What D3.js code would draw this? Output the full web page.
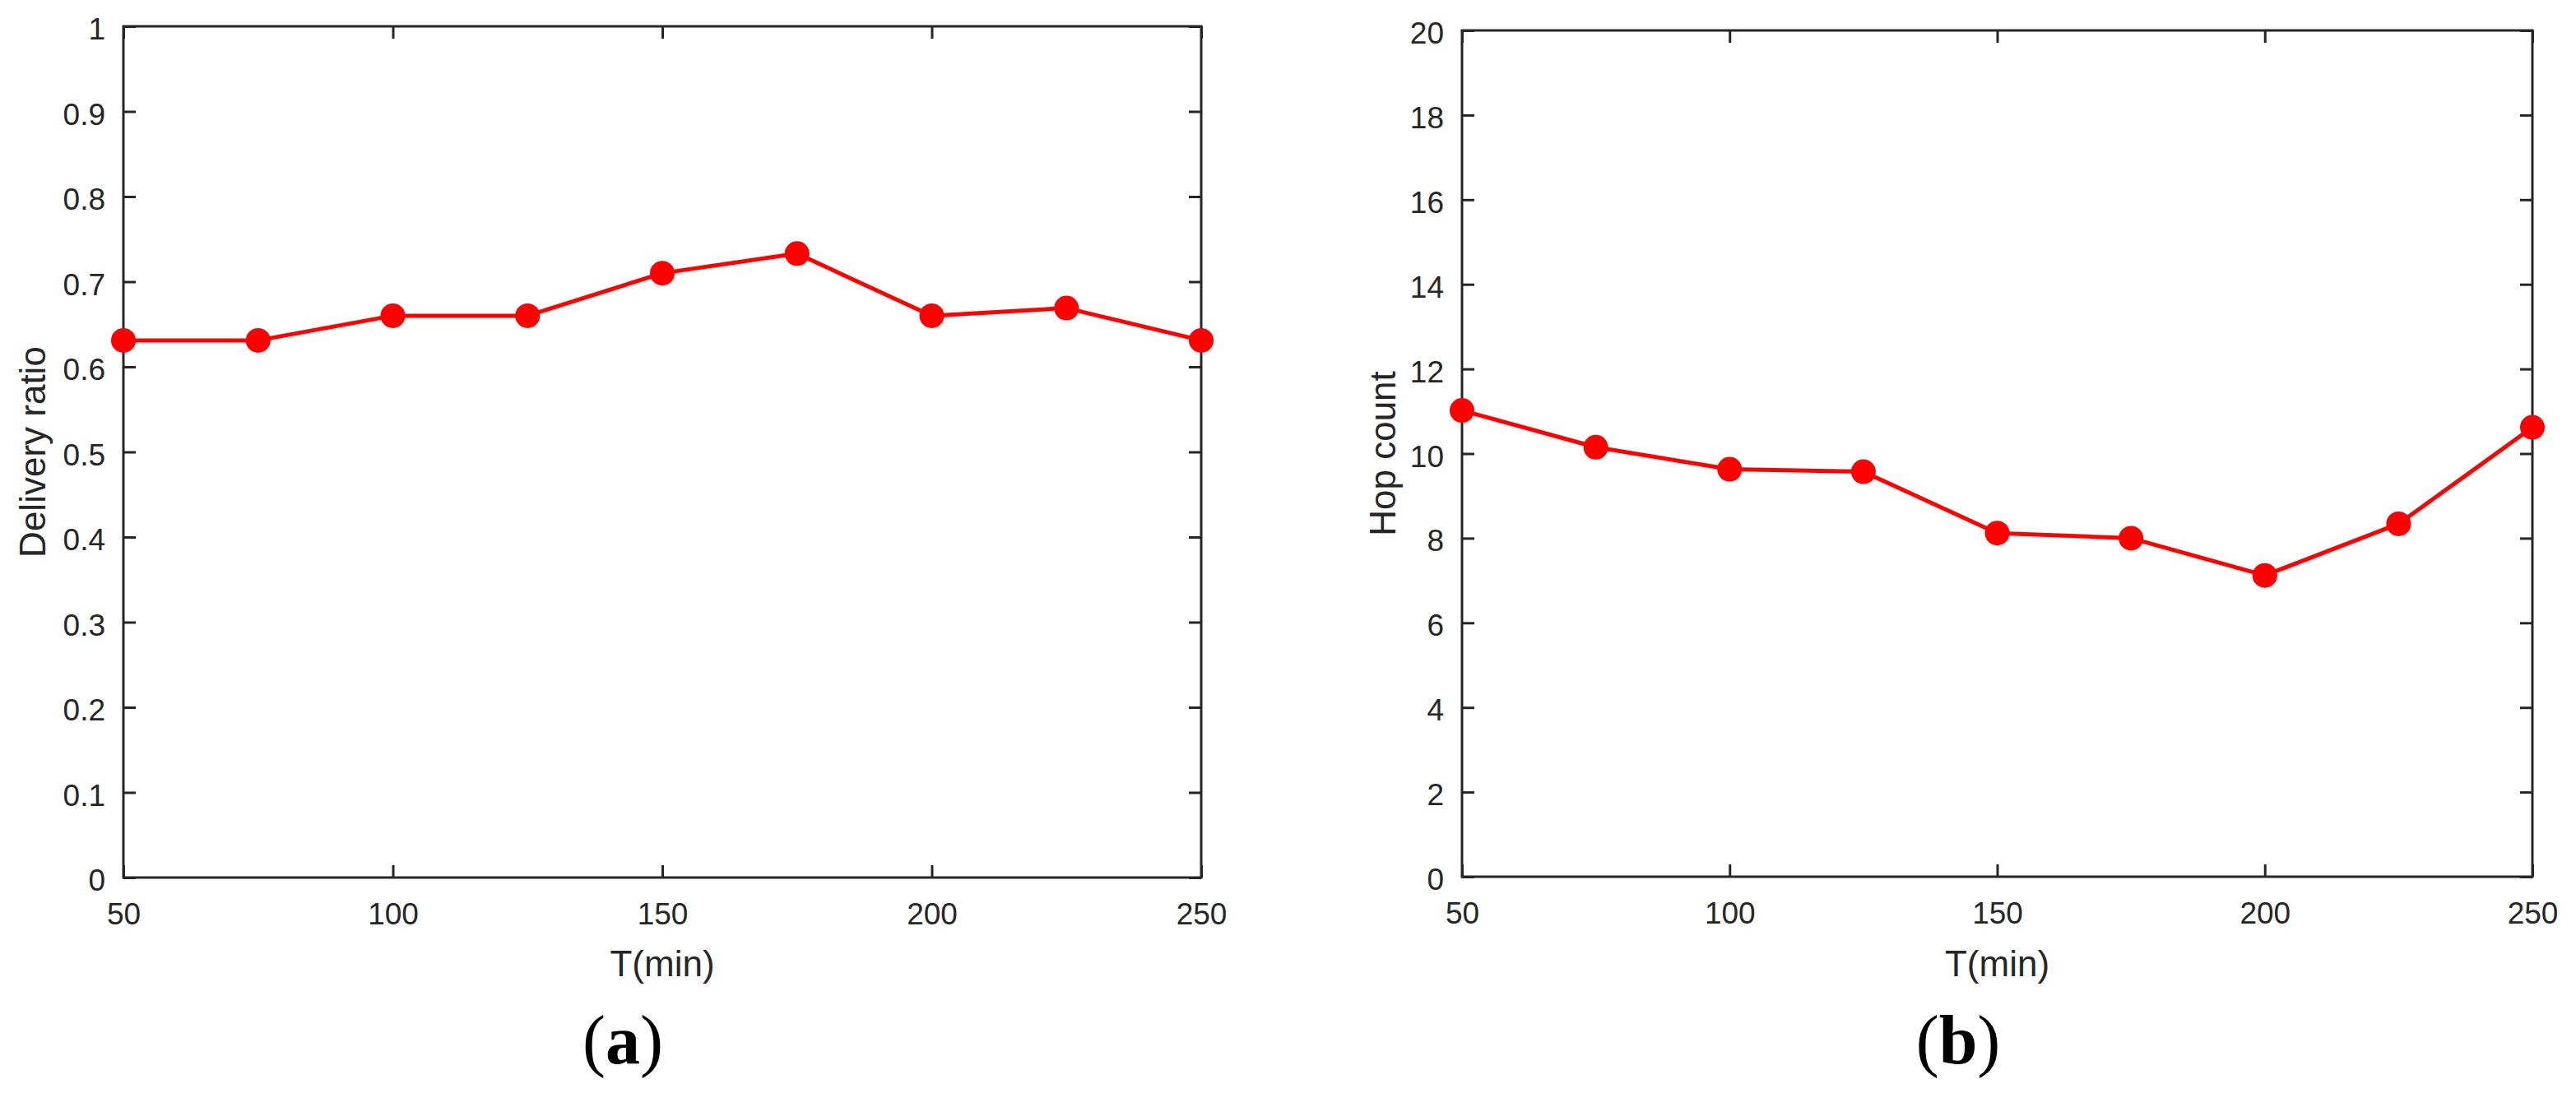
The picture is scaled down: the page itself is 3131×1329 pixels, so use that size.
<!DOCTYPE html>
<html>
<head>
<meta charset="utf-8">
<script src="https://cdn.jsdelivr.net/npm/d3@7"></script>
<style>
  html, body { margin: 0; padding: 0; background: #fff; }
  svg { display: block; }
</style>
</head>
<body>
<svg id="chart" width="3131" height="1329"></svg>
<script>
// ---- Data ----
const T = [50, 75, 100, 125, 150, 175, 200, 225, 250];
const deliveryRatio = [0.631, 0.631, 0.660, 0.660, 0.710, 0.733, 0.660, 0.669, 0.631];
const hopCount = [11.02, 10.15, 9.63, 9.57, 8.12, 8.00, 7.12, 8.34, 10.62];
const xTicks = [50, 100, 150, 200, 250];
const yTicksA = [0, 0.1, 0.2, 0.3, 0.4, 0.5, 0.6, 0.7, 0.8, 0.9, 1];
const yTicksB = [0, 2, 4, 6, 8, 10, 12, 14, 16, 18, 20];
const xLabel = "T(min)";
const yLabelA = "Delivery ratio";
const yLabelB = "Hop count";
const panelLetters = ["a", "b"];

// ---- Layout / style ----
const svg = d3.select("#chart");
const AX = "#262626";
const RED = "#ff0000";
const tickFont = 37, labelFont = 44;

const panels = [
  { x0: 150, x1: 1460, y0: 32, y1: 1067, yDomain: [0, 1], yTicks: yTicksA, values: deliveryRatio,
    yLabel: yLabelA, yLabelX: 55, letter: panelLetters[0], letterX: 757 },
  { x0: 1777, x1: 3078, y0: 37, y1: 1066, yDomain: [0, 20], yTicks: yTicksB, values: hopCount,
    yLabel: yLabelB, yLabelX: 1696, letter: panelLetters[1], letterX: 2380 }
];

panels.forEach(p => {
  const x = d3.scaleLinear().domain([50, 250]).range([p.x0, p.x1]);
  const y = d3.scaleLinear().domain(p.yDomain).range([p.y1, p.y0]);
  const g = svg.append("g");

  const styleAxis = sel => {
    sel.select(".domain").remove();
    sel.selectAll(".tick line").attr("stroke", AX).attr("stroke-width", 3);
    sel.selectAll(".tick text").attr("fill", AX)
      .style("font-family", "Arial, 'Liberation Sans', sans-serif")
      .style("font-size", tickFont + "px");
  };

  // bottom axis (ticks inward)
  g.append("g").attr("transform", `translate(0,${p.y1})`)
    .call(d3.axisBottom(x).tickValues(xTicks).tickFormat(d3.format("d"))
      .tickSizeInner(-15).tickSizeOuter(0).tickPadding(31))
    .call(styleAxis);
  // top axis ticks (no labels)
  g.append("g").attr("transform", `translate(0,${p.y0})`)
    .call(d3.axisTop(x).tickValues(xTicks).tickFormat("")
      .tickSizeInner(-15).tickSizeOuter(0))
    .call(styleAxis);
  // left axis
  const fmt = d => (p.yDomain[1] === 1 ? d3.format("~g")(+d.toFixed(1)) : d3.format("d")(d));
  g.append("g").attr("transform", `translate(${p.x0},0)`)
    .call(d3.axisLeft(y).tickValues(p.yTicks).tickFormat(fmt)
      .tickSizeInner(-15).tickSizeOuter(0).tickPadding(22))
    .call(styleAxis)
    .call(s => s.selectAll(".tick text").attr("dy", "0.42em"));
  // right axis ticks (no labels)
  g.append("g").attr("transform", `translate(${p.x1},0)`)
    .call(d3.axisRight(y).tickValues(p.yTicks).tickFormat("")
      .tickSizeInner(-15).tickSizeOuter(0))
    .call(styleAxis);

  // box
  g.append("rect")
    .attr("x", p.x0).attr("y", p.y0)
    .attr("width", p.x1 - p.x0).attr("height", p.y1 - p.y0)
    .attr("fill", "none").attr("stroke", AX).attr("stroke-width", 3);

  // data line
  const data = T.map((t, i) => ({ t, v: p.values[i] }));
  g.append("path").datum(data)
    .attr("fill", "none").attr("stroke", RED).attr("stroke-width", 5)
    .attr("stroke-linejoin", "round")
    .attr("d", d3.line().x(d => x(d.t)).y(d => y(d.v)));
  g.selectAll("circle.pt").data(data).enter().append("circle")
    .attr("class", "pt")
    .attr("cx", d => x(d.t)).attr("cy", d => y(d.v))
    .attr("r", 15).attr("fill", RED);

  // x label
  g.append("text")
    .attr("x", (p.x0 + p.x1) / 2).attr("y", 1187)
    .attr("text-anchor", "middle").attr("fill", AX)
    .style("font-family", "Arial, 'Liberation Sans', sans-serif")
    .style("font-size", labelFont + "px")
    .text(xLabel);

  // y label
  g.append("text")
    .attr("transform", `translate(${p.yLabelX},${(p.y0 + p.y1) / 2}) rotate(-90)`)
    .attr("text-anchor", "middle").attr("fill", AX)
    .style("font-family", "Arial, 'Liberation Sans', sans-serif")
    .style("font-size", labelFont + "px")
    .text(p.yLabel);

  // panel letter
  const lt = g.append("text")
    .attr("x", p.letterX).attr("y", 1293)
    .attr("text-anchor", "middle").attr("fill", "#000")
    .style("font-family", "'Times New Roman', 'Liberation Serif', serif")
    .style("font-size", "84px");
  lt.append("tspan").text("(");
  lt.append("tspan").attr("font-weight", "bold").text(p.letter);
  lt.append("tspan").text(")");
});
</script>
</body>
</html>
